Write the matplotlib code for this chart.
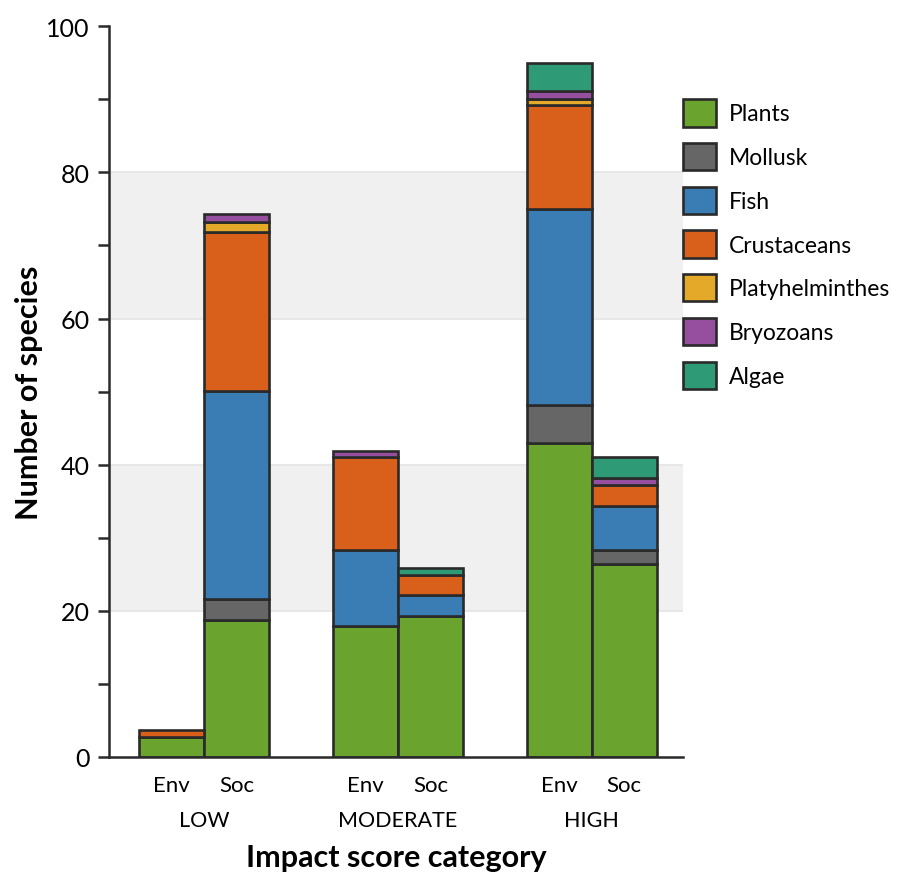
import matplotlib
matplotlib.use('Agg')
import matplotlib.pyplot as plt
import numpy as np
from matplotlib.patches import Patch
from matplotlib.ticker import MultipleLocator
import matplotlib.transforms as mtransforms

plt.rcParams['font.family'] = ['Lato', 'DejaVu Sans']

# data, bar order: LOW Env, LOW Soc, MODERATE Env, MODERATE Soc, HIGH Env, HIGH Soc
groups = ['LOW', 'MODERATE', 'HIGH']
sub_labels = ['Env', 'Soc']
categories = ['Plants', 'Mollusk', 'Fish', 'Crustaceans',
              'Platyhelminthes', 'Bryozoans', 'Algae']
plants = [2.8, 18.8, 17.9, 19.3, 42.9, 26.4]
mollusk = [0, 2.8, 0, 0, 5.2, 1.9]
fish = [0, 28.5, 10.4, 2.8, 26.9, 6.1]
crustaceans = [0.9, 21.7, 12.7, 2.8, 14.2, 2.8]
platyhelminthes = [0, 1.4, 0, 0, 0.8, 0]
bryozoans = [0, 1.1, 0.9, 0, 1.1, 1.0]
algae = [0, 0, 0, 1.0, 3.8, 2.8]

series = [plants, mollusk, fish, crustaceans, platyhelminthes, bryozoans, algae]
colors = ['#6aa42f', '#666666', '#3a7db5', '#d9601b',
          '#e5a92a', '#954f9e', '#2e9b76']
edge = '#2a2a2a'

fig = plt.figure(figsize=(9.01, 8.78), dpi=100)
ax = fig.add_axes([0.121, 0.1367, 0.637, 0.8323])

# alternating background bands
for lo, hi in [(20, 40), (60, 80)]:
    ax.axhspan(lo, hi, color='#f0f0f0', zorder=0, lw=0)
    ax.axhline(lo, color='#e4e4e4', lw=1.2, zorder=0.5)
    ax.axhline(hi, color='#e4e4e4', lw=1.2, zorder=0.5)

width = 0.335
centers = np.arange(len(groups))
xpos = []
for c in centers:
    xpos += [c - width / 2, c + width / 2]
xpos = np.array(xpos)

bottom = np.zeros(len(xpos))
for vals, col in zip(series, colors):
    vals = np.array(vals, dtype=float)
    mask = vals > 0
    ax.bar(xpos[mask], vals[mask], width, bottom=bottom[mask], color=col,
           edgecolor=edge, linewidth=1.9, zorder=2)
    bottom += vals

ax.set_xlim(-0.49, 2.47)
ax.set_ylim(0, 100)

ax.yaxis.set_major_locator(MultipleLocator(20))
ax.yaxis.set_minor_locator(MultipleLocator(10))
ax.tick_params(axis='y', which='both', length=8, width=1.8, color='#2a2a2a',
               labelsize=18, pad=6)
ax.set_xticks(xpos)
ax.set_xticklabels(sub_labels * len(groups), fontsize=16)
ax.tick_params(axis='x', length=0, pad=13)

for s in ['top', 'right']:
    ax.spines[s].set_visible(False)
for s in ['left', 'bottom']:
    ax.spines[s].set_linewidth(1.8)
    ax.spines[s].set_color('#2a2a2a')

trans = mtransforms.blended_transform_factory(ax.transData, ax.transAxes)
for c, g in zip(centers, groups):
    ax.text(c, -0.086, g, transform=trans, ha='center', va='center', fontsize=15.5)

ax.set_ylabel('Number of species', fontsize=22, fontweight='bold', labelpad=2)
ax.text(0.5, -0.137, 'Impact score category', transform=ax.transAxes,
        ha='center', va='center', fontsize=22, fontweight='bold')

handles = [Patch(facecolor=col, edgecolor=edge, linewidth=1.9, label=cat)
           for cat, col in zip(categories, colors)]
ax.legend(handles=handles, loc='upper left', bbox_to_anchor=(1.0, 0.900),
          frameon=False, fontsize=16.5, handlelength=1.45, handleheight=1.45,
          labelspacing=0.72, handletextpad=0.55, borderaxespad=0, borderpad=0)

fig.savefig('out.png', dpi=100)
